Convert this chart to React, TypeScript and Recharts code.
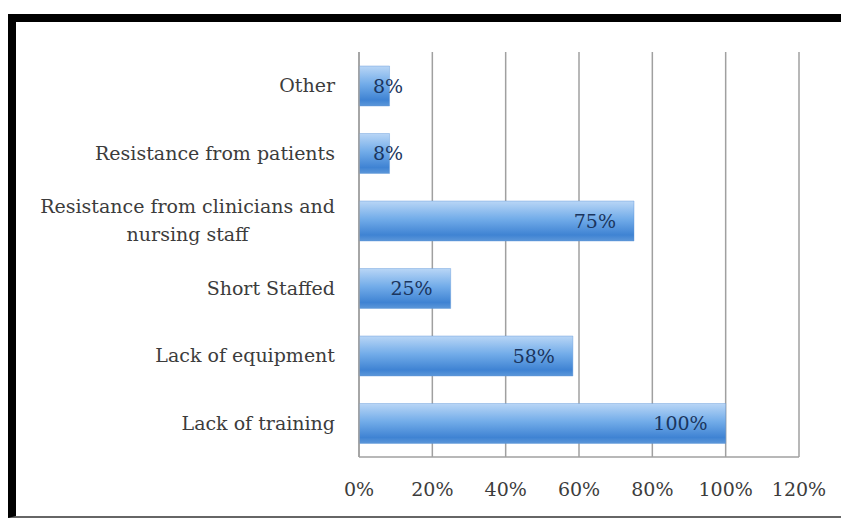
import { Bar, BarChart, CartesianGrid, LabelList, XAxis, YAxis } from "recharts";

const categories = [
  "Other",
  "Resistance from patients",
  "Resistance from clinicians and nursing staff",
  "Short Staffed",
  "Lack of equipment",
  "Lack of training",
];
const shares = [8.33, 8.33, 75, 25, 58.33, 100];
const xTicks = [0, 20, 40, 60, 80, 100, 120];
const wrapped: Record<string, string[]> = {
  "Resistance from clinicians and nursing staff": [
    "Resistance from clinicians and",
    "nursing staff",
  ],
};

const data = categories.map((name, i) => ({ name, value: shares[i] }));

const FONT = "'DejaVu Serif', serif";
const FONT_SIZE = 19;

let ctx: CanvasRenderingContext2D | null = null;
const textWidth = (s: string) => {
  if (!ctx) ctx = document.createElement("canvas").getContext("2d");
  if (!ctx) return s.length * 11;
  ctx.font = `${FONT_SIZE}px ${FONT}`;
  return ctx.measureText(s).width;
};

const CategoryTick = (props: any) => {
  const { x, y, payload } = props;
  const lines = wrapped[payload.value] ?? [payload.value];
  if (lines.length === 1) {
    return (
      <text x={x} y={y} dy="0.35em" textAnchor="end" fill="#3c3c3c" fontSize={FONT_SIZE} fontFamily={FONT}>
        {payload.value}
      </text>
    );
  }
  const maxW = Math.max(...lines.map(textWidth));
  const cx = x - maxW / 2;
  const lh = 28;
  return (
    <text x={cx} y={y} textAnchor="middle" fill="#3c3c3c" fontSize={FONT_SIZE} fontFamily={FONT}>
      {lines.map((l, i) => (
        <tspan key={i} x={cx} y={y + (i - (lines.length - 1) / 2) * lh} dy="0.35em">
          {l}
        </tspan>
      ))}
    </text>
  );
};

const ValueLabel = (props: any) => {
  const { x, y, width, height, value } = props;
  const s = `${Math.round(value)}%`;
  const w = textWidth(s);
  const tx = Math.max(x + width - 18, x + 14 + w);
  return (
    <text x={tx} y={y + height / 2} dy="0.35em" textAnchor="end" fill="#1a355e" fontSize={FONT_SIZE} fontFamily={FONT}>
      {s}
    </text>
  );
};

export default function App() {
  return (
    <div style={{ paddingTop: 6 }}>
      <style>{"body{overflow:hidden}"}</style>
      <div
        style={{
          width: 870,
          height: 494,
          borderLeft: "8px solid #000",
          borderTop: "8px solid #000",
          borderBottom: "2px solid #666",
          background: "#fff",
        }}
      >
        <BarChart
          width={825}
          height={494}
          data={data}
          layout="vertical"
          margin={{ top: 30, right: 42, left: 0, bottom: 29 }}
          barSize={40}
        >
          <defs>
            <linearGradient id="barFill" x1="0" y1="0" x2="0" y2="1">
              <stop offset="0%" stopColor="#b9d6f6" />
              <stop offset="45%" stopColor="#72ace9" />
              <stop offset="85%" stopColor="#3f83d3" />
              <stop offset="100%" stopColor="#5c97d9" />
            </linearGradient>
          </defs>
          <CartesianGrid horizontal={false} stroke="#a0a0a0" strokeWidth={1.5} />
          <XAxis
            type="number"
            domain={[0, 120]}
            ticks={xTicks}
            tickFormatter={(v: number) => `${v}%`}
            tickSize={0}
            tickMargin={26}
            height={30}
            axisLine={{ stroke: "#a0a0a0", strokeWidth: 1.5 }}
            tick={{ fill: "#3c3c3c", fontSize: FONT_SIZE, fontFamily: FONT }}
          />
          <YAxis
            type="category"
            dataKey="name"
            width={343}
            tickSize={0}
            tickMargin={24}
            axisLine={{ stroke: "#a0a0a0", strokeWidth: 1.5 }}
            tick={<CategoryTick />}
            interval={0}
          />
          <Bar dataKey="value" fill="url(#barFill)" stroke="#5a93d6" strokeOpacity={0.4} isAnimationActive={false}>
            <LabelList dataKey="value" content={<ValueLabel />} />
          </Bar>
        </BarChart>
      </div>
    </div>
  );
}
